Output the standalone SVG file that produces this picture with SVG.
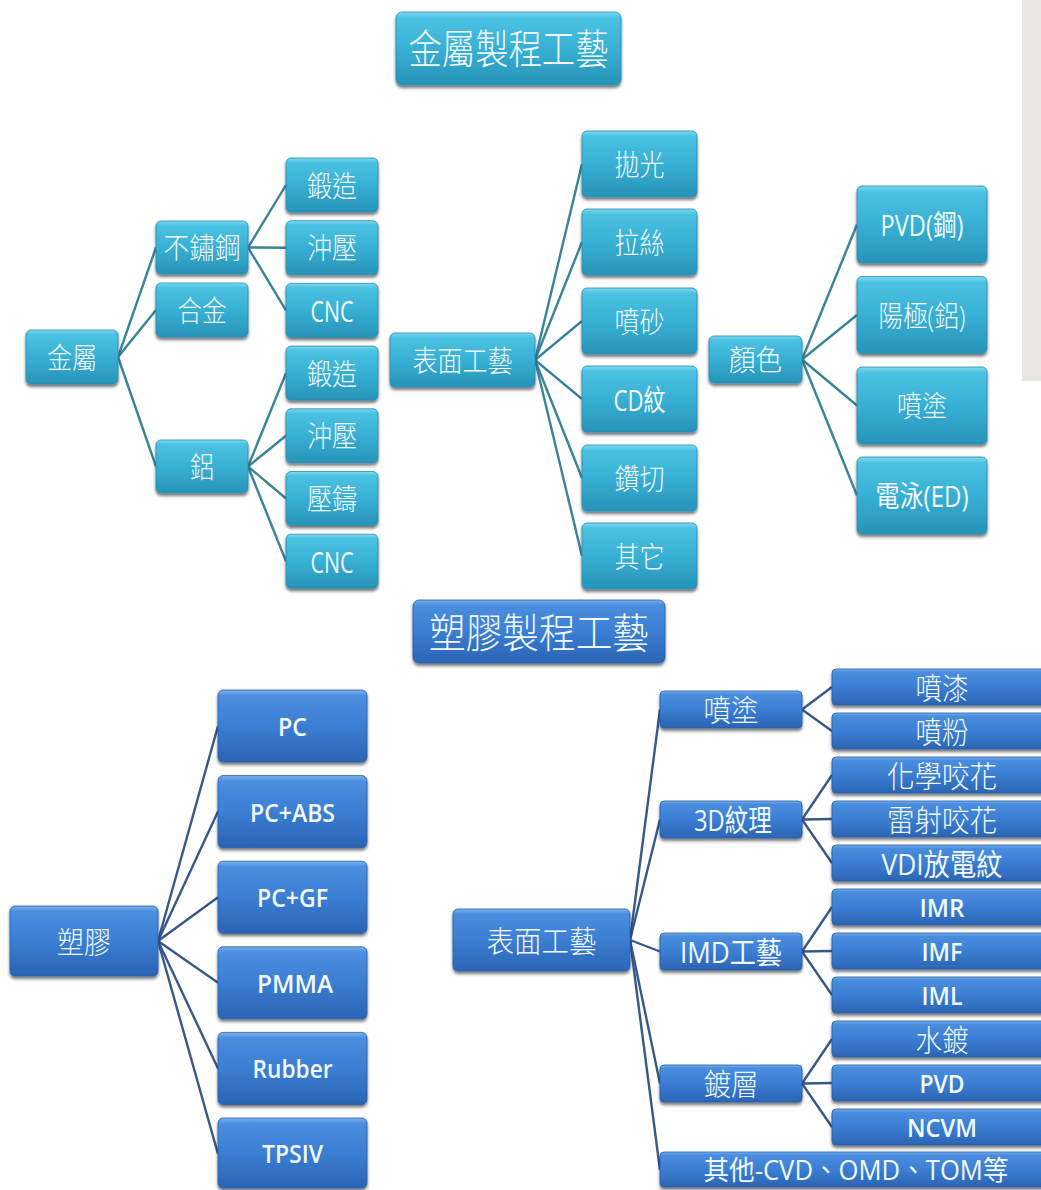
<svg xmlns="http://www.w3.org/2000/svg" width="1041" height="1190" viewBox="0 0 1041 1190">
<defs>
<linearGradient id="gT" x1="0" y1="0" x2="0" y2="1">
<stop offset="0" stop-color="#7fdaf0"/><stop offset="0.08" stop-color="#4cc2e2"/><stop offset="0.5" stop-color="#37b0d4"/><stop offset="1" stop-color="#2893b8"/>
</linearGradient>
<linearGradient id="gB" x1="0" y1="0" x2="0" y2="1">
<stop offset="0" stop-color="#7bb0ec"/><stop offset="0.08" stop-color="#4b8ee0"/><stop offset="0.5" stop-color="#3b7ed3"/><stop offset="1" stop-color="#2b64b4"/>
</linearGradient>
<filter id="sh" x="-10%" y="-20%" width="120%" height="150%">
<feDropShadow dx="0" dy="2.5" stdDeviation="1.6" flood-color="#000" flood-opacity="0.55"/>
</filter>
<style>
.t rect{fill:url(#gT);stroke:#2a8db0;stroke-width:0.8;filter:url(#sh)}
.b rect{fill:url(#gB);stroke:#2a5ea8;stroke-width:0.8;filter:url(#sh)}
text{font-family:"Open Sans","Noto Sans CJK TC","Noto Sans CJK SC",sans-serif;font-weight:300;fill:#f1f9fc;text-anchor:middle;dominant-baseline:central;font-size:29px}
.lat{font-weight:600;font-size:26px}
.mlat{font-weight:400}
.ttl{font-size:41px}
.p{font-size:30px}
.pm{font-size:30px;font-weight:400}
.po{font-size:27px;font-weight:400}
.cm line{stroke:#3a8499;stroke-width:2.4;fill:none}
.cp line{stroke:#37598a;stroke-width:2.4;fill:none}
</style>
</defs>
<rect x="0" y="0" width="1041" height="1190" fill="#ffffff"/>
<rect x="1022" y="0" width="19" height="381" fill="#ebe6e3"/>

<g id="connectors-metal" class="cm">
<line x1="118" y1="357" x2="156" y2="247.5"/>
<line x1="118" y1="357" x2="156" y2="310"/>
<line x1="118" y1="357" x2="156" y2="466.5"/>
<line x1="248" y1="247.5" x2="286" y2="185"/>
<line x1="248" y1="247.5" x2="286" y2="247.7"/>
<line x1="248" y1="247.5" x2="286" y2="310.4"/>
<line x1="248" y1="466.5" x2="286" y2="373.1"/>
<line x1="248" y1="466.5" x2="286" y2="435.8"/>
<line x1="248" y1="466.5" x2="286" y2="498.5"/>
<line x1="248" y1="466.5" x2="286" y2="561.2"/>
<line x1="535" y1="360" x2="582" y2="164"/>
<line x1="535" y1="360" x2="582" y2="242"/>
<line x1="535" y1="360" x2="582" y2="321"/>
<line x1="535" y1="360" x2="582" y2="399"/>
<line x1="535" y1="360" x2="582" y2="478"/>
<line x1="535" y1="360" x2="582" y2="556"/>
<line x1="802" y1="359.5" x2="857" y2="224.5"/>
<line x1="802" y1="359.5" x2="857" y2="315"/>
<line x1="802" y1="359.5" x2="857" y2="405.5"/>
<line x1="802" y1="359.5" x2="857" y2="495.5"/>
</g>

<g id="connectors-plastic" class="cp">
<line x1="158" y1="941" x2="218" y2="726"/>
<line x1="158" y1="941" x2="218" y2="811.6"/>
<line x1="158" y1="941" x2="218" y2="897.2"/>
<line x1="158" y1="941" x2="218" y2="982.8"/>
<line x1="158" y1="941" x2="218" y2="1068.4"/>
<line x1="158" y1="941" x2="218" y2="1154"/>
<line x1="630" y1="940" x2="660" y2="709.5"/>
<line x1="630" y1="940" x2="660" y2="819.5"/>
<line x1="630" y1="940" x2="660" y2="951.5"/>
<line x1="630" y1="940" x2="660" y2="1083.5"/>
<line x1="630" y1="940" x2="660" y2="1170"/>
<line x1="802" y1="709.5" x2="832" y2="687"/>
<line x1="802" y1="709.5" x2="832" y2="731"/>
<line x1="802" y1="819.5" x2="832" y2="775"/>
<line x1="802" y1="819.5" x2="832" y2="819"/>
<line x1="802" y1="819.5" x2="832" y2="863"/>
<line x1="802" y1="951.5" x2="832" y2="907"/>
<line x1="802" y1="951.5" x2="832" y2="951"/>
<line x1="802" y1="951.5" x2="832" y2="995"/>
<line x1="802" y1="1083.5" x2="832" y2="1039"/>
<line x1="802" y1="1083.5" x2="832" y2="1083"/>
<line x1="802" y1="1083.5" x2="832" y2="1127"/>
</g>

<!-- Metal section -->
<g id="metal-title" class="t"><rect x="396" y="12" width="225" height="73" rx="6"/><text class="ttl" x="508.5" y="48" textLength="200" lengthAdjust="spacingAndGlyphs">金屬製程工藝</text></g>
<g id="m-metal" class="t"><rect x="26" y="330" width="92" height="54" rx="5"/><text x="72" y="357" textLength="50" lengthAdjust="spacingAndGlyphs">金屬</text></g>
<g id="m-stainless" class="t"><rect x="156" y="221" width="92" height="53" rx="5"/><text x="202" y="247.5" textLength="77" lengthAdjust="spacingAndGlyphs">不鏽鋼</text></g>
<g id="m-alloy" class="t"><rect x="156" y="283" width="92" height="54" rx="5"/><text x="202" y="310" textLength="49" lengthAdjust="spacingAndGlyphs">合金</text></g>
<g id="m-al" class="t"><rect x="156" y="440" width="92" height="53" rx="5"/><text x="202" y="466.5" textLength="24" lengthAdjust="spacingAndGlyphs">鋁</text></g>
<g id="m-s-forge" class="t"><rect x="286" y="158" width="92" height="54" rx="5"/><text x="332" y="185" textLength="50" lengthAdjust="spacingAndGlyphs">鍛造</text></g>
<g id="m-s-stamp" class="t"><rect x="286" y="220.7" width="92" height="54" rx="5"/><text x="332" y="247.7" textLength="50" lengthAdjust="spacingAndGlyphs">沖壓</text></g>
<g id="m-s-cnc" class="t"><rect x="286" y="283.4" width="92" height="54" rx="5"/><text class="mlat" x="332" y="310.4" textLength="43" lengthAdjust="spacingAndGlyphs">CNC</text></g>
<g id="m-a-forge" class="t"><rect x="286" y="346.1" width="92" height="54" rx="5"/><text x="332" y="373.1" textLength="50" lengthAdjust="spacingAndGlyphs">鍛造</text></g>
<g id="m-a-stamp" class="t"><rect x="286" y="408.8" width="92" height="54" rx="5"/><text x="332" y="435.8" textLength="50" lengthAdjust="spacingAndGlyphs">沖壓</text></g>
<g id="m-a-die" class="t"><rect x="286" y="471.5" width="92" height="54" rx="5"/><text x="332" y="498.5" textLength="50" lengthAdjust="spacingAndGlyphs">壓鑄</text></g>
<g id="m-a-cnc" class="t"><rect x="286" y="534.2" width="92" height="54" rx="5"/><text class="mlat" x="332" y="561.2" textLength="43" lengthAdjust="spacingAndGlyphs">CNC</text></g>

<g id="m-surface" class="t"><rect x="390" y="333" width="145" height="54" rx="5"/><text x="462.5" y="360" textLength="100" lengthAdjust="spacingAndGlyphs">表面工藝</text></g>
<g id="m-polish" class="t"><rect x="582" y="131" width="115" height="66" rx="5"/><text x="639.5" y="164" textLength="50" lengthAdjust="spacingAndGlyphs">拋光</text></g>
<g id="m-brush" class="t"><rect x="582" y="209" width="115" height="66" rx="5"/><text x="639.5" y="242" textLength="50" lengthAdjust="spacingAndGlyphs">拉絲</text></g>
<g id="m-blast" class="t"><rect x="582" y="288" width="115" height="66" rx="5"/><text x="639.5" y="321" textLength="50" lengthAdjust="spacingAndGlyphs">噴砂</text></g>
<g id="m-cd" class="t"><rect x="582" y="366" width="115" height="66" rx="5"/><text class="mlat" x="639.5" y="399" textLength="52" lengthAdjust="spacingAndGlyphs">CD紋</text></g>
<g id="m-diamond" class="t"><rect x="582" y="445" width="115" height="66" rx="5"/><text x="639.5" y="478" textLength="50" lengthAdjust="spacingAndGlyphs">鑽切</text></g>
<g id="m-other" class="t"><rect x="582" y="523" width="115" height="66" rx="5"/><text x="639.5" y="556" textLength="50" lengthAdjust="spacingAndGlyphs">其它</text></g>

<g id="m-color" class="t"><rect x="709" y="336" width="93" height="47" rx="5"/><text x="755.5" y="359.5" textLength="53" lengthAdjust="spacingAndGlyphs">顏色</text></g>
<g id="m-pvd" class="t"><rect x="857" y="186" width="130" height="77" rx="5"/><text class="mlat" x="922" y="224.5" textLength="83" lengthAdjust="spacingAndGlyphs">PVD(鋼)</text></g>
<g id="m-anod" class="t"><rect x="857" y="276.5" width="130" height="77" rx="5"/><text x="922" y="315" textLength="87" lengthAdjust="spacingAndGlyphs">陽極(鋁)</text></g>
<g id="m-spray" class="t"><rect x="857" y="367" width="130" height="77" rx="5"/><text x="922" y="405.5" textLength="50" lengthAdjust="spacingAndGlyphs">噴塗</text></g>
<g id="m-ed" class="t"><rect x="857" y="457" width="130" height="77" rx="5"/><text class="mlat" x="922" y="495.5" textLength="93" lengthAdjust="spacingAndGlyphs">電泳(ED)</text></g>

<!-- Plastic section -->
<g id="plastic-title" class="b"><rect x="413" y="600" width="252" height="63" rx="6"/><text class="ttl" x="539" y="631.5" textLength="220" lengthAdjust="spacingAndGlyphs">塑膠製程工藝</text></g>
<g id="p-plastic" class="b"><rect x="10" y="906" width="148" height="70" rx="5"/><text class="p" x="84" y="941" textLength="54" lengthAdjust="spacingAndGlyphs">塑膠</text></g>
<g id="p-pc" class="b"><rect x="218" y="690" width="149" height="72" rx="5"/><text class="lat" x="292.5" y="726" textLength="29" lengthAdjust="spacingAndGlyphs">PC</text></g>
<g id="p-pcabs" class="b"><rect x="218" y="775.6" width="149" height="72" rx="5"/><text class="lat" x="292.5" y="811.6" textLength="85" lengthAdjust="spacingAndGlyphs">PC+ABS</text></g>
<g id="p-pcgf" class="b"><rect x="218" y="861.2" width="149" height="72" rx="5"/><text class="lat" x="292.5" y="897.2" textLength="71" lengthAdjust="spacingAndGlyphs">PC+GF</text></g>
<g id="p-pmma" class="b"><rect x="218" y="946.8" width="149" height="72" rx="5"/><text class="lat" x="295" y="982.8" textLength="76" lengthAdjust="spacingAndGlyphs">PMMA</text></g>
<g id="p-rubber" class="b"><rect x="218" y="1032.4" width="149" height="72" rx="5"/><text class="lat" x="292.5" y="1068.4" textLength="80" lengthAdjust="spacingAndGlyphs">Rubber</text></g>
<g id="p-tpsiv" class="b"><rect x="218" y="1118" width="149" height="70" rx="5"/><text class="lat" x="292.5" y="1153" textLength="61" lengthAdjust="spacingAndGlyphs">TPSIV</text></g>

<g id="p-surface" class="b"><rect x="453" y="909" width="177" height="62" rx="5"/><text class="p" x="541.5" y="940" textLength="110" lengthAdjust="spacingAndGlyphs">表面工藝</text></g>
<g id="p-spray" class="b"><rect x="660" y="691" width="142" height="37" rx="4"/><text class="p" x="731" y="709.5" textLength="55" lengthAdjust="spacingAndGlyphs">噴塗</text></g>
<g id="p-3d" class="b"><rect x="660" y="801" width="142" height="37" rx="4"/><text class="pm" x="733" y="819.5" textLength="78" lengthAdjust="spacingAndGlyphs">3D紋理</text></g>
<g id="p-imd" class="b"><rect x="660" y="933" width="142" height="37" rx="4"/><text class="pm" x="731" y="951.5" textLength="102" lengthAdjust="spacingAndGlyphs">IMD工藝</text></g>
<g id="p-plating" class="b"><rect x="660" y="1065" width="142" height="37" rx="4"/><text class="p" x="731" y="1083.5" textLength="55" lengthAdjust="spacingAndGlyphs">鍍層</text></g>
<g id="p-others" class="b"><rect x="660" y="1152" width="390" height="35" rx="4"/><text class="po" x="856" y="1169" textLength="305" lengthAdjust="spacingAndGlyphs">其他-CVD、OMD、TOM等</text></g>

<g id="p-paint" class="b"><rect x="832" y="669" width="218" height="36" rx="4"/><text class="p" x="942" y="687" textLength="53" lengthAdjust="spacingAndGlyphs">噴漆</text></g>
<g id="p-powder" class="b"><rect x="832" y="713" width="218" height="36" rx="4"/><text class="p" x="942" y="731" textLength="53" lengthAdjust="spacingAndGlyphs">噴粉</text></g>
<g id="p-chem" class="b"><rect x="832" y="757" width="218" height="36" rx="4"/><text class="p" x="942" y="775" textLength="110" lengthAdjust="spacingAndGlyphs">化學咬花</text></g>
<g id="p-laser" class="b"><rect x="832" y="801" width="218" height="36" rx="4"/><text class="p" x="942" y="819" textLength="110" lengthAdjust="spacingAndGlyphs">雷射咬花</text></g>
<g id="p-vdi" class="b"><rect x="832" y="845" width="218" height="36" rx="4"/><text class="pm" x="942" y="863" textLength="121" lengthAdjust="spacingAndGlyphs">VDI放電紋</text></g>
<g id="p-imr" class="b"><rect x="832" y="889" width="218" height="36" rx="4"/><text class="lat" x="942" y="907" textLength="45" lengthAdjust="spacingAndGlyphs">IMR</text></g>
<g id="p-imf" class="b"><rect x="832" y="933" width="218" height="36" rx="4"/><text class="lat" x="942" y="951" textLength="41" lengthAdjust="spacingAndGlyphs">IMF</text></g>
<g id="p-iml" class="b"><rect x="832" y="977" width="218" height="36" rx="4"/><text class="lat" x="942" y="995" textLength="41" lengthAdjust="spacingAndGlyphs">IML</text></g>
<g id="p-water" class="b"><rect x="832" y="1021" width="218" height="36" rx="4"/><text class="p" x="942" y="1039" textLength="53" lengthAdjust="spacingAndGlyphs">水鍍</text></g>
<g id="p-pvd" class="b"><rect x="832" y="1065" width="218" height="36" rx="4"/><text class="lat" x="942" y="1083" textLength="45" lengthAdjust="spacingAndGlyphs">PVD</text></g>
<g id="p-ncvm" class="b"><rect x="832" y="1109" width="218" height="36" rx="4"/><text class="lat" x="942" y="1127" textLength="70" lengthAdjust="spacingAndGlyphs">NCVM</text></g>
</svg>
